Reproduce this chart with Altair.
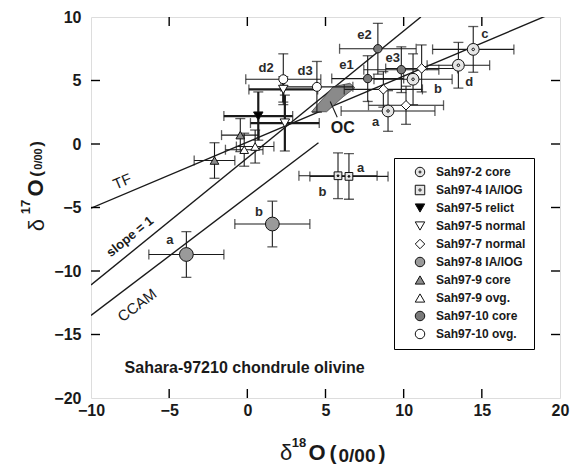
import altair as alt
import pandas as pd

FONT = "Liberation Sans"
W, H = 469, 381
INK = "#1a1a1a"

# ---------------- data ----------------
series_names = ["Sah97-2 core", "Sah97-4 IA/IOG", "Sah97-5 relict", "Sah97-5 normal",
                "Sah97-7 normal", "Sah97-8 IA/IOG", "Sah97-9 core", "Sah97-9 ovg.",
                "Sah97-10 core", "Sah97-10 ovg."]

pt_series = ["Sah97-2 core"] * 4 + ["Sah97-4 IA/IOG"] * 2 + ["Sah97-5 relict"] + \
            ["Sah97-5 normal"] * 2 + ["Sah97-7 normal"] * 3 + ["Sah97-8 IA/IOG"] * 2 + \
            ["Sah97-9 core"] * 2 + ["Sah97-9 ovg."] * 2 + ["Sah97-10 core"] * 3 + \
            ["Sah97-10 ovg."] * 2
pt_d18 = [14.45, 13.5, 10.6, 9.0, 5.8, 6.5, 0.7, 2.4, 2.3, 8.7, 10.15, 11.15,
          -3.9, 1.6, -2.1, -0.45, -0.2, 0.5, 7.7, 8.35, 9.85, 2.3, 4.45]
pt_d17 = [7.45, 6.2, 5.1, 2.6, -2.5, -2.55, 2.2, 1.65, 4.3, 4.3, 3.05, 5.95,
          -8.7, -6.3, -1.3, 0.7, -0.45, -0.2, 5.15, 7.5, 5.85, 5.1, 4.5]
pt_err18 = [2.6, 2.0, 2.5, 3.0, 2.5, 2.5, 2.2, 2.2, 2.2, 2.5, 2.4, 2.3,
            2.4, 2.4, 1.3, 1.2, 1.2, 1.2, 2.3, 2.45, 2.4, 2.4, 2.3]
pt_err17 = [1.8, 1.8, 2.0, 1.6, 1.8, 1.8, 1.9, 2.2, 1.0, 1.4, 1.5, 1.85,
            1.8, 1.8, 1.4, 1.3, 1.3, 1.3, 1.8, 2.0, 1.8, 2.0, 2.0]

# point labels (text, d18, d17)
lab_text = ["c", "d", "b", "a", "b", "a", "a", "b", "e1", "e2", "e3", "d2", "d3"]
lab_d18 = [15.2, 14.2, 12.2, 8.2, 4.8, 7.25, -4.95, 0.75, 6.35, 7.5, 9.3, 1.2, 3.7]
lab_d17 = [8.65, 4.9, 4.3, 1.7, -3.8, -1.9, -7.55, -5.35, 6.2, 8.6, 6.75, 5.95, 5.75]

# reference lines (end points)
tf_x, tf_y = [-10, 20], [-5.05, 10.55]
s1_x, s1_y = [-10, 11.1], [-11.1, 10.0]
ccam_x, ccam_y = [-10, 4.55], [-13.5, 0.1]

# OC field outline
oc_x = [4.11, 5.49, 6.56, 6.88, 6.13, 5.07, 4.11]
oc_y = [2.54, 4.51, 4.78, 4.43, 3.72, 2.54, 2.54]

xtick_vals = [-10, -5, 0, 5, 10, 15, 20]
ytick_vals = [-20, -15, -10, -5, 0, 5, 10]

# ---------------- styles ----------------
CIRC_DOT = ("M-1,0A1,1 0 1,0 1,0A1,1 0 1,0 -1,0Z "
            "M-0.22,0A0.22,0.22 0 1,0 0.22,0A0.22,0.22 0 1,0 -0.22,0Z")
SQ_DOT = ("M-1,-1L1,-1L1,1L-1,1Z "
          "M-0.25,0A0.25,0.25 0 1,0 0.25,0A0.25,0.25 0 1,0 -0.25,0Z")
shape_map = {"Sah97-2 core": CIRC_DOT, "Sah97-4 IA/IOG": SQ_DOT,
             "Sah97-5 relict": "triangle-down", "Sah97-5 normal": "triangle-down",
             "Sah97-7 normal": "diamond", "Sah97-8 IA/IOG": "circle",
             "Sah97-9 core": "triangle-up", "Sah97-9 ovg.": "triangle-up",
             "Sah97-10 core": "circle", "Sah97-10 ovg.": "circle"}
fill_map = {"Sah97-2 core": "#e6e6e6", "Sah97-4 IA/IOG": "#e6e6e6",
            "Sah97-5 relict": "#000000", "Sah97-5 normal": "#ffffff",
            "Sah97-7 normal": "#ffffff", "Sah97-8 IA/IOG": "#9a9a9a",
            "Sah97-9 core": "#8c8c8c", "Sah97-9 ovg.": "#ffffff",
            "Sah97-10 core": "#7a7a7a", "Sah97-10 ovg.": "#ffffff"}
size_map = {"Sah97-2 core": 140, "Sah97-4 IA/IOG": 60, "Sah97-5 relict": 90,
            "Sah97-5 normal": 90, "Sah97-7 normal": 90, "Sah97-8 IA/IOG": 190,
            "Sah97-9 core": 75, "Sah97-9 ovg.": 75, "Sah97-10 core": 70,
            "Sah97-10 ovg.": 80}

df = pd.DataFrame({"series": pt_series, "d18": pt_d18, "d17": pt_d17,
                   "e18": pt_err18, "e17": pt_err17})
df["xlo"] = df.d18 - df.e18
df["xhi"] = df.d18 + df.e18
df["ylo"] = df.d17 - df.e17
df["yhi"] = df.d17 + df.e17
df["bw"] = [2.2 if s.startswith("Sah97-5") else 1.1 for s in df.series]
df["sz"] = [size_map[s] for s in df.series]

xs = alt.Scale(domain=[-10, 20], nice=False, zero=False)
ys = alt.Scale(domain=[-20, 10], nice=False, zero=False)
xaxis = alt.Axis(values=xtick_vals, title=None, grid=False, ticks=False, domain=False,
                 labelFont=FONT, labelFontSize=16, labelFontWeight="bold",
                 labelColor=INK, labelPadding=4, labelFlush=False)
yaxis = alt.Axis(values=ytick_vals, title=None, grid=False, ticks=False, domain=False,
                 labelFont=FONT, labelFontSize=16, labelFontWeight="bold",
                 labelColor=INK, labelPadding=10, labelFlush=False)


def X(f):
    return alt.X(f, scale=xs, axis=xaxis)


def Y(f):
    return alt.Y(f, scale=ys, axis=yaxis)


# ---------------- layers ----------------
ref = pd.DataFrame({
    "name": ["TF"] * 2 + ["S1"] * 2 + ["CCAM"] * 2,
    "x": tf_x + s1_x + ccam_x, "y": tf_y + s1_y + ccam_y,
})
ref_lines = alt.Chart(ref).mark_line(color=INK, strokeWidth=1.4, clip=True).encode(
    x=X("x:Q"), y=Y("y:Q"), detail="name:N")

oc = pd.DataFrame({"x": oc_x, "y": oc_y, "o": list(range(len(oc_x)))})
oc_poly = alt.Chart(oc).mark_line(fill="#8a8a8a", stroke="#444", strokeWidth=0.8,
                                  interpolate="linear-closed").encode(
    x=X("x:Q"), y=Y("y:Q"), order="o:Q")

oc_lead = alt.Chart(pd.DataFrame({"x": [5.3, 5.75], "y": [3.35, 2.1]})).mark_line(
    color=INK, strokeWidth=1.1).encode(x=X("x:Q"), y=Y("y:Q"))

base = alt.Chart(df)
hbar = base.mark_rule(color=INK).encode(
    x=X("xlo:Q"), x2="xhi:Q", y=Y("d17:Q"),
    strokeWidth=alt.StrokeWidth("bw:Q", scale=None, legend=None))
vbar = base.mark_rule(color=INK).encode(
    x=X("d18:Q"), y=Y("ylo:Q"), y2="yhi:Q",
    strokeWidth=alt.StrokeWidth("bw:Q", scale=None, legend=None))

capx = pd.concat([df[["xlo", "d17"]].rename(columns={"xlo": "x", "d17": "y"}),
                  df[["xhi", "d17"]].rename(columns={"xhi": "x", "d17": "y"})])
capy = pd.concat([df[["d18", "ylo"]].rename(columns={"d18": "x", "ylo": "y"}),
                  df[["d18", "yhi"]].rename(columns={"d18": "x", "yhi": "y"})])
caps_h = alt.Chart(capx).mark_tick(orient="vertical", size=10, thickness=1.3,
                                   color=INK).encode(x=X("x:Q"), y=Y("y:Q"))
caps_v = alt.Chart(capy).mark_tick(orient="horizontal", size=10, thickness=1.3,
                                   color=INK).encode(x=X("x:Q"), y=Y("y:Q"))

legend = alt.Legend(orient="none", legendX=303, legendY=141, title=None,
                    labelFont=FONT, labelFontSize=12, labelFontWeight="bold",
                    labelColor=INK, strokeColor="black", fillColor="white",
                    padding=8, symbolStrokeWidth=1,
                    symbolSize=90, symbolOffset=12, labelOffset=10, rowPadding=4,
                    gridAlign="all", cornerRadius=0)
points = base.mark_point(filled=True, strokeWidth=1, opacity=1).encode(
    x=X("d18:Q"), y=Y("d17:Q"),
    shape=alt.Shape("series:N", scale=alt.Scale(domain=series_names,
                    range=[shape_map[s] for s in series_names]), legend=legend),
    fill=alt.Fill("series:N", scale=alt.Scale(domain=series_names,
                  range=[fill_map[s] for s in series_names]), legend=legend),
    stroke=alt.Stroke("series:N", scale=alt.Scale(domain=series_names,
                      range=["#111111"] * len(series_names)), legend=legend),
    size=alt.Size("sz:Q", scale=None, legend=None))

labs = pd.DataFrame({"t": lab_text, "x": lab_d18, "y": lab_d17})
pt_labels = alt.Chart(labs).mark_text(font=FONT, fontSize=13, fontWeight="bold",
                                      color="#2a2a2a").encode(
    x=X("x:Q"), y=Y("y:Q"), text="t:N")


def data_text(s, x, y, size, weight="normal", angle=0, align="center"):
    return alt.Chart(pd.DataFrame({"x": [x], "y": [y]})).mark_text(
        text=s, font=FONT, fontSize=size, fontWeight=weight, angle=angle,
        align=align, baseline="middle", color=INK).encode(x=X("x:Q"), y=Y("y:Q"))


def px_text(s, x, y, size, weight="bold", angle=0):
    return alt.Chart(pd.DataFrame({"k": [0]})).mark_text(
        text=s, font=FONT, fontSize=size, fontWeight=weight, angle=angle,
        align="center", baseline="middle", color=INK).encode(
        x=alt.value(x), y=alt.value(y))


ann = [
    data_text("TF", -8.0, -2.95, 15, angle=337),
    data_text("slope = 1", -7.5, -7.3, 13, weight="bold", angle=321),
    data_text("CCAM", -7.05, -12.7, 15, angle=323),
    data_text("OC", 6.1, 1.25, 16, weight="bold"),
    data_text("Sahara-97210 chondrule olivine", -7.85, -17.65, 16, weight="bold",
              align="left"),
]

# inward frame ticks
xt = pd.DataFrame({"v": xtick_vals[1:-1]})
yt = pd.DataFrame({"v": ytick_vals[1:-1]})
tk = dict(color="black", strokeWidth=1.4)
ticks = [
    alt.Chart(xt).mark_rule(**tk).encode(x=X("v:Q"), y=alt.value(H), y2=alt.value(H - 9)),
    alt.Chart(xt).mark_rule(**tk).encode(x=X("v:Q"), y=alt.value(0), y2=alt.value(9)),
    alt.Chart(yt).mark_rule(**tk).encode(y=Y("v:Q"), x=alt.value(0), x2=alt.value(9)),
    alt.Chart(yt).mark_rule(**tk).encode(y=Y("v:Q"), x=alt.value(W), x2=alt.value(W - 9)),
]

# axis titles (pieces, pixel offsets from the plot origin)
titles = [
    px_text("δ", 195, 436, 22, weight="normal"),
    px_text("18", 208, 426, 13),
    px_text("O", 226, 436, 22),
    px_text("(", 242, 437, 21),
    px_text("0/00", 266, 439, 19),
    px_text(")", 291, 437, 21),
    px_text("δ", -54, 208, 22, weight="normal", angle=270),
    px_text("17", -65, 190, 13, angle=270),
    px_text("O", -55, 171, 22, angle=270),
    px_text("(", -54, 157, 17, angle=270),
    px_text("0/00", -52, 142, 11, angle=270),
    px_text(")", -54, 127, 17, angle=270),
]

chart = alt.layer(
    ref_lines, oc_poly, oc_lead, hbar, vbar, caps_h, caps_v, points, pt_labels,
    *ann, *ticks, *titles
).properties(
    width=W, height=H,
    padding={"left": 91, "top": 17, "right": 13, "bottom": 68},
    autosize=alt.AutoSizeParams(type="none"),
).configure_view(stroke="black", strokeWidth=1.6).configure(background="white")

chart.save("out.html", embed_options={"renderer": "svg", "actions": False})
